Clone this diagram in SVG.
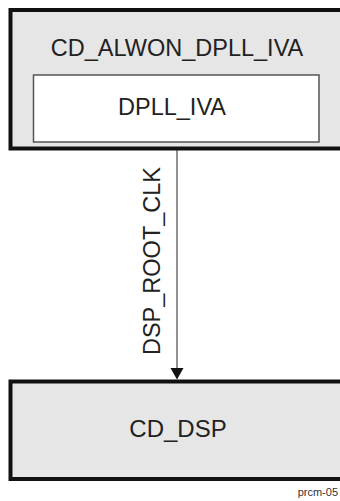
<svg xmlns="http://www.w3.org/2000/svg" width="340" height="501" viewBox="0 0 340 501">
<defs>
<style>
.cd{fill:#e6e6e6;stroke:#111;stroke-width:4}
.dp{fill:#fff;stroke:#555;stroke-width:1.5}
.t{font-family:"Liberation Sans",Arial,sans-serif;font-size:23.5px;fill:#222;text-anchor:middle}
.conn{stroke:#222;stroke-width:1;fill:none}
</style>
</defs>
<rect width="340" height="501" fill="#fff"/>
<g id="cd_alwon_dpll_iva">
<rect class="cd" x="10.5" y="10" width="340" height="138.5"/>
<text class="t" x="177" y="56">CD_ALWON_DPLL_IVA</text>
</g>
<g id="dpll_iva">
<rect class="dp" x="33.5" y="75" width="285.5" height="67"/>
<text class="t" x="172" y="115">DPLL_IVA</text>
</g>
<g id="cd_dsp">
<rect class="cd" x="10.5" y="381.5" width="340" height="97.5"/>
<text class="t" x="178" y="437" style="font-size:24px">CD_DSP</text>
</g>
<g id="connectors">
<line class="conn" x1="177" y1="150" x2="177" y2="370"/>
<polygon points="170.5,368 183.5,368 177,379.5" fill="#111"/>
<text class="t" transform="translate(160,261) rotate(-90)" x="0" y="0">DSP_ROOT_CLK</text>
</g>
<text x="338" y="496" style="font-family:'Liberation Sans',Arial,sans-serif;font-size:11px;fill:#333;text-anchor:end">prcm-05</text>
</svg>
